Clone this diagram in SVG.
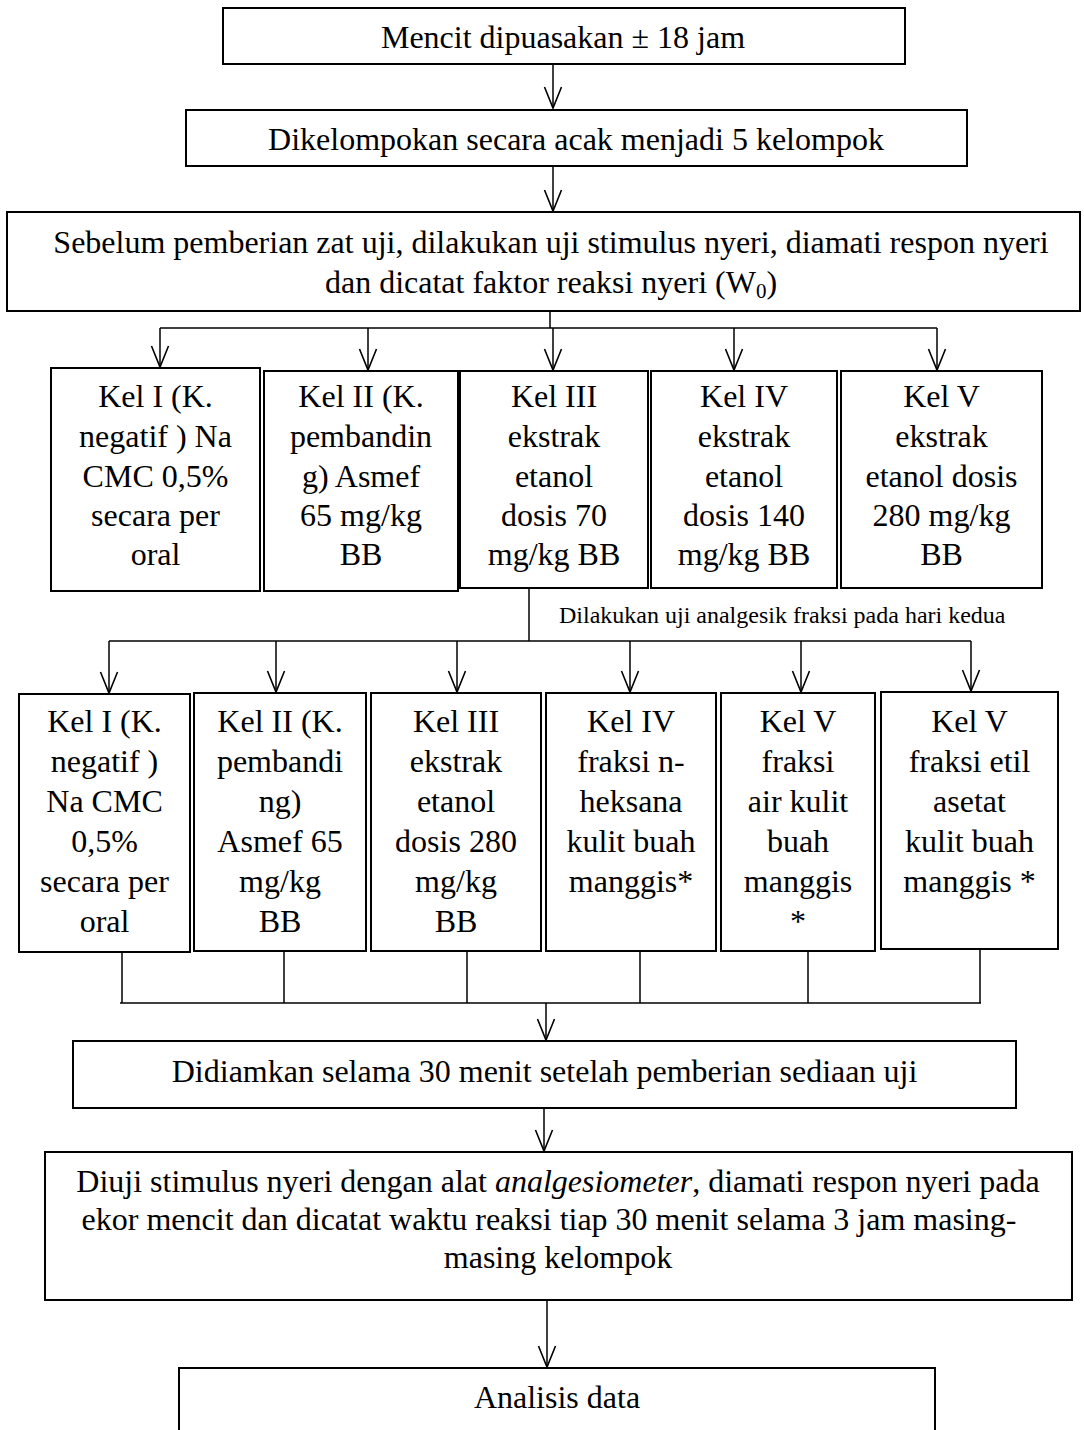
<svg xmlns="http://www.w3.org/2000/svg" width="1084" height="1430" viewBox="0 0 1084 1430">
<style>
.box{fill:#fff;stroke:#000;stroke-width:2}
.t{font-family:"Liberation Serif","Times New Roman",serif;font-size:32px;fill:#000;text-anchor:middle}
.s{font-family:"Liberation Serif","Times New Roman",serif;font-size:24px;fill:#000}
.c{fill:none;stroke:#000;stroke-width:1.5}
</style>
<defs>
<marker id="ah" viewBox="0 0 22 22" refX="21" refY="11" markerWidth="22" markerHeight="22" markerUnits="userSpaceOnUse" orient="auto" overflow="visible">
<path d="M0,2.5 L21,11 L0,19.5" fill="none" stroke="#000" stroke-width="1.6"/>
</marker>
</defs>
<rect width="1084" height="1430" fill="#fff"/>

<g id="connectors">
<line class="c" x1="553" y1="64" x2="553" y2="108" marker-end="url(#ah)"/>
<line class="c" x1="553" y1="166" x2="553" y2="211" marker-end="url(#ah)"/>
<line class="c" x1="550" y1="311" x2="550" y2="328"/>
<line class="c" x1="160" y1="328" x2="937" y2="328"/>
<line class="c" x1="160" y1="328" x2="160" y2="367" marker-end="url(#ah)"/>
<line class="c" x1="368" y1="328" x2="368" y2="370" marker-end="url(#ah)"/>
<line class="c" x1="553" y1="328" x2="553" y2="370" marker-end="url(#ah)"/>
<line class="c" x1="734" y1="328" x2="734" y2="370" marker-end="url(#ah)"/>
<line class="c" x1="937" y1="328" x2="937" y2="370" marker-end="url(#ah)"/>
<line class="c" x1="529" y1="588" x2="529" y2="641"/>
<line class="c" x1="109" y1="641" x2="971" y2="641"/>
<line class="c" x1="109" y1="641" x2="109" y2="693" marker-end="url(#ah)"/>
<line class="c" x1="276" y1="641" x2="276" y2="692" marker-end="url(#ah)"/>
<line class="c" x1="457" y1="641" x2="457" y2="692" marker-end="url(#ah)"/>
<line class="c" x1="630" y1="641" x2="630" y2="692" marker-end="url(#ah)"/>
<line class="c" x1="801" y1="641" x2="801" y2="692" marker-end="url(#ah)"/>
<line class="c" x1="971" y1="641" x2="971" y2="691" marker-end="url(#ah)"/>
<line class="c" x1="122" y1="952" x2="122" y2="1003"/>
<line class="c" x1="284" y1="951" x2="284" y2="1003"/>
<line class="c" x1="467" y1="951" x2="467" y2="1003"/>
<line class="c" x1="640" y1="951" x2="640" y2="1003"/>
<line class="c" x1="808" y1="951" x2="808" y2="1003"/>
<line class="c" x1="980" y1="949" x2="980" y2="1003"/>
<line class="c" x1="120" y1="1003" x2="981" y2="1003"/>
<line class="c" x1="546" y1="1003" x2="546" y2="1040" marker-end="url(#ah)"/>
<line class="c" x1="544" y1="1108" x2="544" y2="1151" marker-end="url(#ah)"/>
<line class="c" x1="547" y1="1300" x2="547" y2="1367" marker-end="url(#ah)"/>
<text class="s" x="559" y="623">Dilakukan uji analgesik fraksi pada hari kedua</text>
</g>

<g id="n1"><rect class="box" x="223" y="8" width="682" height="56"/><text class="t" x="563" y="48">Mencit dipuasakan ± 18 jam</text></g>
<g id="n2"><rect class="box" x="186" y="110" width="781" height="56"/><text class="t" x="576" y="150">Dikelompokan secara acak menjadi 5 kelompok</text></g>
<g id="n3"><rect class="box" x="7" y="212" width="1073" height="99"/>
<text class="t" x="551" y="253">Sebelum pemberian zat uji, dilakukan uji stimulus nyeri, diamati respon nyeri</text>
<text class="t" x="551" y="293">dan dicatat faktor reaksi nyeri (W<tspan font-size="21" dy="5">0</tspan><tspan dy="-5">)</tspan></text></g>

<g id="r1a"><rect class="box" x="51" y="368" width="209" height="223"/>
<text class="t"><tspan x="155.5" y="407">Kel I (K.</tspan><tspan x="155.5" y="447">negatif ) Na</tspan><tspan x="155.5" y="487">CMC 0,5%</tspan><tspan x="155.5" y="526">secara per</tspan><tspan x="155.5" y="565">oral</tspan></text></g>
<g id="r1b"><rect class="box" x="264" y="371" width="194" height="220"/>
<text class="t"><tspan x="361" y="407">Kel II (K.</tspan><tspan x="361" y="447">pembandin</tspan><tspan x="361" y="487">g) Asmef</tspan><tspan x="361" y="526">65 mg/kg</tspan><tspan x="361" y="565">BB</tspan></text></g>
<g id="r1c"><rect class="box" x="460" y="371" width="188" height="217"/>
<text class="t"><tspan x="554" y="407">Kel III</tspan><tspan x="554" y="447">ekstrak</tspan><tspan x="554" y="487">etanol</tspan><tspan x="554" y="526">dosis 70</tspan><tspan x="554" y="565">mg/kg BB</tspan></text></g>
<g id="r1d"><rect class="box" x="651" y="371" width="186" height="217"/>
<text class="t"><tspan x="744" y="407">Kel IV</tspan><tspan x="744" y="447">ekstrak</tspan><tspan x="744" y="487">etanol</tspan><tspan x="744" y="526">dosis 140</tspan><tspan x="744" y="565">mg/kg BB</tspan></text></g>
<g id="r1e"><rect class="box" x="841" y="371" width="201" height="217"/>
<text class="t"><tspan x="941.5" y="407">Kel V</tspan><tspan x="941.5" y="447">ekstrak</tspan><tspan x="941.5" y="487">etanol dosis</tspan><tspan x="941.5" y="526">280 mg/kg</tspan><tspan x="941.5" y="565">BB</tspan></text></g>

<g id="r2a"><rect class="box" x="19" y="694" width="171" height="258"/>
<text class="t"><tspan x="104.5" y="732">Kel I (K.</tspan><tspan x="104.5" y="772">negatif )</tspan><tspan x="104.5" y="812">Na CMC</tspan><tspan x="104.5" y="852">0,5%</tspan><tspan x="104.5" y="892">secara per</tspan><tspan x="104.5" y="932">oral</tspan></text></g>
<g id="r2b"><rect class="box" x="194" y="693" width="172" height="258"/>
<text class="t"><tspan x="280" y="732">Kel II (K.</tspan><tspan x="280" y="772">pembandi</tspan><tspan x="280" y="812">ng)</tspan><tspan x="280" y="852">Asmef 65</tspan><tspan x="280" y="892">mg/kg</tspan><tspan x="280" y="932">BB</tspan></text></g>
<g id="r2c"><rect class="box" x="371" y="693" width="170" height="258"/>
<text class="t"><tspan x="456" y="732">Kel III</tspan><tspan x="456" y="772">ekstrak</tspan><tspan x="456" y="812">etanol</tspan><tspan x="456" y="852">dosis 280</tspan><tspan x="456" y="892">mg/kg</tspan><tspan x="456" y="932">BB</tspan></text></g>
<g id="r2d"><rect class="box" x="546" y="693" width="170" height="258"/>
<text class="t"><tspan x="631" y="732">Kel IV</tspan><tspan x="631" y="772">fraksi n-</tspan><tspan x="631" y="812">heksana</tspan><tspan x="631" y="852">kulit buah</tspan><tspan x="631" y="892">manggis*</tspan></text></g>
<g id="r2e"><rect class="box" x="721" y="693" width="154" height="258"/>
<text class="t"><tspan x="798" y="732">Kel V</tspan><tspan x="798" y="772">fraksi</tspan><tspan x="798" y="812">air kulit</tspan><tspan x="798" y="852">buah</tspan><tspan x="798" y="892">manggis</tspan><tspan x="798" y="932">*</tspan></text></g>
<g id="r2f"><rect class="box" x="881" y="692" width="177" height="257"/>
<text class="t"><tspan x="969.5" y="732">Kel V</tspan><tspan x="969.5" y="772">fraksi etil</tspan><tspan x="969.5" y="812">asetat</tspan><tspan x="969.5" y="852">kulit buah</tspan><tspan x="969.5" y="892">manggis *</tspan></text></g>

<g id="n4"><rect class="box" x="73" y="1041" width="943" height="67"/><text class="t" x="544.5" y="1082">Didiamkan selama 30 menit setelah pemberian sediaan uji</text></g>
<g id="n5"><rect class="box" x="45" y="1152" width="1027" height="148"/>
<text class="t" x="558" y="1192">Diuji stimulus nyeri dengan alat <tspan font-style="italic">analgesiometer</tspan>, diamati respon nyeri pada</text>
<text class="t" x="549" y="1230">ekor mencit dan dicatat waktu reaksi tiap 30 menit selama 3 jam masing-</text>
<text class="t" x="558" y="1268">masing kelompok</text></g>
<g id="n6"><path class="box" d="M179,1431 V1368 H935 V1431"/><text class="t" x="557" y="1408">Analisis data</text></g>
</svg>
